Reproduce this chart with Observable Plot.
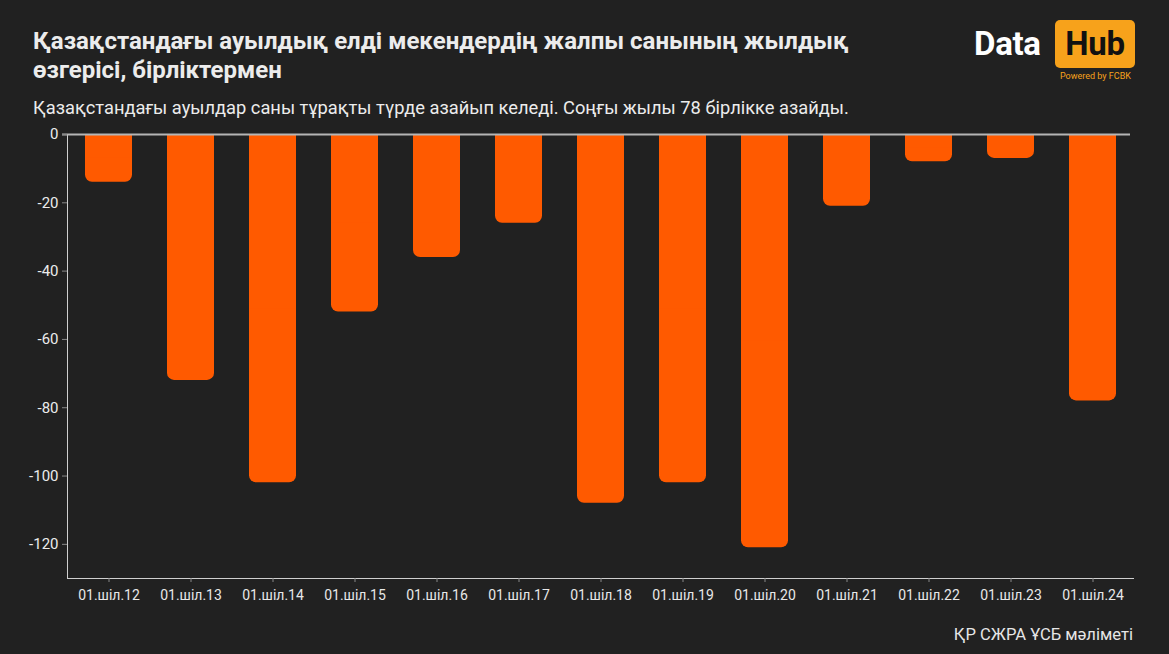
<!DOCTYPE html>
<html>
<head>
<meta charset="utf-8">
<script src="https://cdn.jsdelivr.net/npm/d3@7"></script>
<script src="https://cdn.jsdelivr.net/npm/@observablehq/plot@0.6"></script>
<style>
  html, body { margin: 0; padding: 0; background: #212121; }
  #wrap { position: relative; width: 1169px; height: 654px; background: #212121; font-family: Roboto, "Noto Sans", sans-serif; overflow: hidden; }
  #title { position: absolute; left: 33px; top: 27px; color: #ececec; font-weight: 700; font-size: 24px; line-height: 29px; }
  #subtitle { position: absolute; left: 33px; top: 97px; color: #ececec; font-size: 18.3px; }
  #caption { position: absolute; right: 36px; top: 625px; color: #e6e6e6; font-size: 16.6px; }
  #chart { position: absolute; left: 0; top: 120px; }
  #logo { position: absolute; left: 974px; top: 20px; width: 162px; height: 64px; }
  #logo .data { position: absolute; left: 0; top: 4px; color: #fff; font-weight: 700; font-size: 33px; letter-spacing: -0.3px; }
  #logo .hub { position: absolute; left: 81px; top: 0; width: 80px; height: 48px; background: #F7A21B; border-radius: 5px; color: #111; font-weight: 700; font-size: 33px; text-align: center; line-height: 48px; letter-spacing: -0.3px; }
  #logo .pw { position: absolute; left: 86px; top: 51px; color: #F7A21B; font-size: 9px; }
</style>
</head>
<body>
<div id="wrap">
  <div id="title">Қазақстандағы ауылдық елді мекендердің жалпы санының жылдық<br>өзгерісі, бірліктермен</div>
  <div id="subtitle">Қазақстандағы ауылдар саны тұрақты түрде азайып келеді. Соңғы жылы 78 бірлікке азайды.</div>
  <div id="logo"><div class="data">Data</div><div class="hub">Hub</div><div class="pw">Powered by FCBK</div></div>
  <div id="chart"></div>
  <div id="caption">ҚР СЖРА ҰСБ мәліметі</div>
</div>
<script>
const dates = ["01.шіл.12","01.шіл.13","01.шіл.14","01.шіл.15","01.шіл.16","01.шіл.17","01.шіл.18","01.шіл.19","01.шіл.20","01.шіл.21","01.шіл.22","01.шіл.23","01.шіл.24"];
const changes = [-14, -72, -102, -52, -36, -26, -108, -102, -121, -21, -8, -7, -78];
const yTicks = [0, -20, -40, -60, -80, -100, -120];

const data = dates.map((d, i) => ({date: d, value: changes[i]}));
const orange = "#FF5A00";
const axisColor = "#cfcfcf";

const chart = Plot.plot({
  width: 1169,
  height: 520,
  marginTop: 14,
  marginBottom: 62,
  marginLeft: 67,
  marginRight: 36,
  style: {background: "transparent", color: "#e8e8e8", fontFamily: "Roboto, 'Noto Sans', sans-serif"},
  x: {domain: dates, paddingInner: 0.43, paddingOuter: 0.215, label: null},
  y: {domain: [-130, 0], label: null},
  marks: [
    Plot.barY(data, {x: "date", y: "value", fill: orange, rx: 7}),
    Plot.barY(data, {x: "date", y1: 0, y2: d => d.value / 2, fill: orange}),
    Plot.frame({anchor: "left", stroke: axisColor, strokeWidth: 1}),
    Plot.frame({anchor: "bottom", stroke: axisColor, strokeWidth: 1}),
    Plot.ruleY([0], {stroke: "#b5b5b5", strokeWidth: 2, insetLeft: -5, insetRight: 3}),
    Plot.axisY({ticks: yTicks, tickFormat: d => String(d), tickSize: 5, tickPadding: 4, stroke: "#888", fontSize: 15, fill: "#ececec"}),
    Plot.axisX({tickSize: 4, tickPadding: 8, stroke: "#888", fontSize: 14, fill: "#e8e8e8"})
  ]
});
document.getElementById("chart").appendChild(chart);
</script>
</body>
</html>
